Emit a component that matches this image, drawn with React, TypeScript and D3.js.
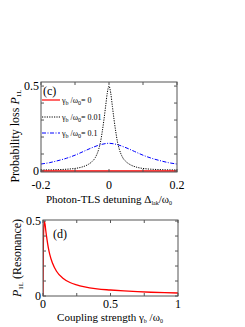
import React from "react";
import * as d3 from "d3";

// Panel (c): detuning vs probability loss
const detuning01 = [-0.2, -0.15, -0.1, -0.08, -0.06, -0.05, -0.04, -0.03, -0.025, -0.02, -0.015, -0.01, -0.005, 0, 0.005, 0.01, 0.015, 0.02, 0.025, 0.03, 0.04, 0.05, 0.06, 0.08, 0.1, 0.15, 0.2];
const loss001 = [0.006, 0.008, 0.015, 0.023, 0.04, 0.055, 0.08, 0.13, 0.17, 0.23, 0.3, 0.38, 0.46, 0.5, 0.46, 0.38, 0.3, 0.23, 0.17, 0.13, 0.08, 0.055, 0.04, 0.023, 0.015, 0.008, 0.006];
const detuning1 = [-0.2, -0.175, -0.15, -0.125, -0.1, -0.075, -0.05, -0.025, 0, 0.025, 0.05, 0.075, 0.1, 0.125, 0.15, 0.175, 0.2];
const loss01 = [0.041, 0.049, 0.061, 0.075, 0.093, 0.115, 0.137, 0.155, 0.163, 0.155, 0.137, 0.115, 0.093, 0.075, 0.061, 0.049, 0.041];
const detuning0 = [-0.2, 0, 0.2];
const loss0 = [0, 0, 0];

// Panel (d): coupling strength vs resonance loss
const coupling = [0, 0.002, 0.005, 0.01, 0.015, 0.02, 0.03, 0.04, 0.05, 0.07, 0.1, 0.15, 0.2, 0.25, 0.3, 0.4, 0.5, 0.6, 0.7, 0.8, 0.9, 1];
const lossRes = [0, 0.28, 0.44, 0.5, 0.48, 0.44, 0.375, 0.32, 0.278, 0.22, 0.165, 0.117, 0.09, 0.074, 0.062, 0.047, 0.04, 0.034, 0.029, 0.025, 0.022, 0.02];

const cXTicks = [-0.2, -0.1, 0, 0.1, 0.2];
const cXLabels = [-0.2, 0, 0.2];
const yTicks = [0, 0.1, 0.2, 0.3, 0.4, 0.5];
const yLabels = [0, 0.5];
const dXTicks = [0, 0.25, 0.5, 0.75, 1];
const dXLabels = [0, 0.5, 1];

const FONT = "'Liberation Serif', 'Times New Roman', serif";
const AX = "#555";

function Frame({ x, y, xt, xl, yt, yl, xOff }: any) {
  const [x0, x1] = x.range();
  const [y0, y1] = y.range();
  const L = 3;
  return (
    <g>
      <rect x={x0} y={y1} width={x1 - x0} height={y0 - y1} fill="none" stroke={AX} strokeWidth={1} />
      {xt.map((t: number) => (
        <g key={"xt" + t}>
          <line x1={x(t)} x2={x(t)} y1={y0} y2={y0 - L} stroke={AX} />
          <line x1={x(t)} x2={x(t)} y1={y1} y2={y1 + L} stroke={AX} />
        </g>
      ))}
      {yt.map((t: number) => (
        <g key={"yt" + t}>
          <line x1={x0} x2={x0 + L} y1={y(t)} y2={y(t)} stroke={AX} />
          <line x1={x1} x2={x1 - L} y1={y(t)} y2={y(t)} stroke={AX} />
        </g>
      ))}
      {xl.map((t: number) => (
        <text key={"xl" + t} x={x(t)} y={y0 + xOff} textAnchor="middle" fontSize={12} fontFamily={FONT}>
          {String(t)}
        </text>
      ))}
      {yl.map((t: number) => (
        <text key={"yl" + t} x={x0 - 2} y={y(t) + 4} textAnchor="end" fontSize={12} fontFamily={FONT}>
          {String(t)}
        </text>
      ))}
    </g>
  );
}

function GammaLabel({ value }: { value: string }) {
  return (
    <>
      <tspan>γ</tspan>
      <tspan fontSize={6} dy={2}>b</tspan>
      <tspan dy={-2}> /ω</tspan>
      <tspan fontSize={6} dy={2}>0</tspan>
      <tspan dy={-2}>= {value}</tspan>
    </>
  );
}

export default function App() {
  const xc = d3.scaleLinear().domain([-0.2, 0.2]).range([41, 177]);
  const yc = d3.scaleLinear().domain([-0.006, 0.524]).range([172, 82]);
  const xd = d3.scaleLinear().domain([0, 1]).range([43, 178]);
  const yd = d3.scaleLinear().domain([0, 0.507]).range([296, 220]);

  const lineC = (xs: number[], ys: number[]) =>
    d3.line<number>().x((_, i) => xc(xs[i])).y((v) => yc(v))(ys) || "";
  const lineD = d3.line<number>().x((_, i) => xd(coupling[i])).y((v) => yd(v)).curve(d3.curveMonotoneX)(lossRes) || "";

  return (
    <svg width={245} height={327} style={{ display: "block", position: "absolute", left: 0, top: 0 }}>
      <rect width={245} height={327} fill="#fff" />
      <defs>
        <clipPath id="clipc">
          <rect x={41} y={82} width={136} height={90} />
        </clipPath>
        <clipPath id="clipd">
          <rect x={43} y={220} width={135} height={76} />
        </clipPath>
      </defs>
      {/* Panel (c) */}
      <g clipPath="url(#clipc)">
        <path d={d3.line<number>().x((_, i) => xc(detuning1[i])).y((v) => yc(v)).curve(d3.curveMonotoneX)(loss01) || ""} fill="none" stroke="#0000ff" strokeWidth={1} strokeDasharray="4,1.5,1,1.5" />
        <path d={d3.line<number>().x((_, i) => xc(detuning01[i])).y((v) => yc(v)).curve(d3.curveMonotoneX)(loss001) || ""} fill="none" stroke="#000" strokeWidth={1} strokeDasharray="1.2,1.2" />
        <path d={lineC(detuning0, loss0)} fill="none" stroke="#ff0000" strokeWidth={1.3} />
      </g>
      <Frame x={xc} y={yc} xt={cXTicks} xl={cXLabels} yt={yTicks} yl={yLabels} xOff={17} />
      <text x={43} y={95} fontSize={12} fontFamily={FONT}>(c)</text>
      <line x1={42} x2={60} y1={100} y2={100} stroke="#ff0000" strokeWidth={1.2} />
      <text x={62} y={103} fontSize={8} fontFamily={FONT}><GammaLabel value="0" /></text>
      <line x1={42} x2={60} y1={117} y2={117} stroke="#000" strokeWidth={1} strokeDasharray="1.2,1.2" />
      <text x={62} y={120} fontSize={8} fontFamily={FONT}><GammaLabel value="0.01" /></text>
      <line x1={42} x2={60} y1={133} y2={133} stroke="#0000ff" strokeWidth={1} strokeDasharray="4,1.5,1,1.5" />
      <text x={62} y={136} fontSize={8} fontFamily={FONT}><GammaLabel value="0.1" /></text>
      <text x={109} y={203} textAnchor="middle" fontSize={11} fontFamily={FONT}>
        Photon-TLS detuning Δ<tspan fontSize={6} dy={2}>lak</tspan><tspan dy={-2}>/ω</tspan><tspan fontSize={6} dy={2}>0</tspan>
      </text>
      <text transform="translate(19,136) rotate(-90)" textAnchor="middle" fontSize={12} fontFamily={FONT}>
        Probability loss <tspan fontStyle="italic">P</tspan><tspan fontSize={7} dy={2}>1L</tspan>
      </text>

      {/* Panel (d) */}
      <g clipPath="url(#clipd)">
        <path d={lineD} fill="none" stroke="#ff0000" strokeWidth={1.3} />
      </g>
      <Frame x={xd} y={yd} xt={dXTicks} xl={dXLabels} yt={yTicks} yl={yLabels} xOff={12} />
      <text x={53} y={238} fontSize={12} fontFamily={FONT}>(d)</text>
      <text x={110} y={321} textAnchor="middle" fontSize={11} fontFamily={FONT}>
        Coupling strength γ<tspan fontSize={6} dy={2}>b</tspan><tspan dy={-2}> /ω</tspan><tspan fontSize={6} dy={2}>0</tspan>
      </text>
      <text transform="translate(21,258) rotate(-90)" textAnchor="middle" fontSize={12} fontFamily={FONT}>
        <tspan fontStyle="italic">P</tspan><tspan fontSize={7} dy={2}>1L</tspan><tspan dy={-2}> (Resonance)</tspan>
      </text>
    </svg>
  );
}
